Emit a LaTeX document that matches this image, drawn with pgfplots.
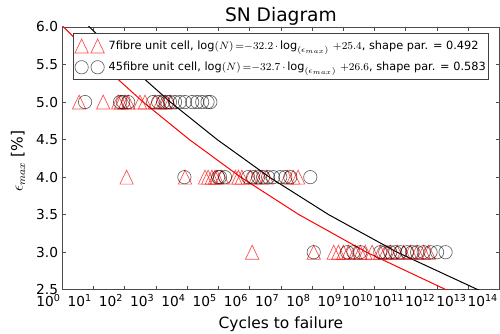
\documentclass[border=0pt]{standalone}
\usepackage{fontspec}
\setmainfont{DejaVu Sans}
\usepackage{pgfplots}
\pgfplotsset{compat=1.18}
\newlength\px
\setlength\px{0.75pt}
\pgfdeclareplotmark{mtri}{%
  \pgfpathmoveto{\pgfqpoint{0pt}{1.05\pgfplotmarksize}}%
  \pgfpathlineto{\pgfqpoint{-\pgfplotmarksize}{-1.05\pgfplotmarksize}}%
  \pgfpathlineto{\pgfqpoint{\pgfplotmarksize}{-1.05\pgfplotmarksize}}%
  \pgfpathclose\pgfusepathqstroke}
\pgfplotsset{twomarks/.style={legend image code/.code={%
  \draw[##1] plot coordinates {(6pt,0pt) (18pt,0pt)};
  \path (0pt,0pt) (24pt,0pt);}}}
\pgfplotstableread{
n eps
0.54 5.0
1.31 5.0
1.79 5.0
1.88 5.0
2.01 5.0
2.11 5.0
2.49 5.0
2.65 5.0
2.97 5.0
3.13 5.0
3.29 5.0
3.45 5.0
2.06 4.0
3.93 4.0
4.57 4.0
4.67 4.0
4.79 4.0
4.89 4.0
4.95 4.0
5.11 4.0
5.54 4.0
5.64 4.0
5.75 4.0
6.02 4.0
6.18 4.0
6.39 4.0
6.55 4.0
7.20 4.0
7.39 4.0
7.55 4.0
6.08 3.0
8.05 3.0
8.69 3.0
8.84 3.0
9.00 3.0
9.16 3.0
9.38 3.0
9.54 3.0
9.70 3.0
9.92 3.0
10.18 3.0
10.34 3.0
10.50 3.0
10.72 3.0
10.93 3.0
11.14 3.0
11.36 3.0
11.57 3.0
11.73 3.0
}\seven
\pgfplotstableread{
n eps
0.73 5.0
1.85 5.0
1.95 5.0
2.11 5.0
2.91 5.0
3.07 5.0
3.23 5.0
3.36 5.0
3.45 5.0
3.61 5.0
3.77 5.0
3.93 5.0
4.16 5.0
4.32 5.0
4.48 5.0
4.65 5.0
4.74 5.0
3.91 4.0
4.99 4.0
5.05 4.0
5.21 4.0
5.95 4.0
6.11 4.0
6.27 4.0
6.43 4.0
6.59 4.0
6.75 4.0
6.98 4.0
7.14 4.0
7.30 4.0
7.94 4.0
8.05 3.0
9.12 3.0
9.32 3.0
9.54 3.0
10.18 3.0
10.34 3.0
10.50 3.0
10.66 3.0
10.82 3.0
11.04 3.0
11.20 3.0
11.36 3.0
11.57 3.0
11.79 3.0
12.00 3.0
12.27 3.0
}\fortyfive
\begin{document}
\begin{tikzpicture}
\begin{axis}[
  name=ax, at={(0,0)}, anchor=south west,
  scale only axis, width=437.7\px, height=263\px,
  xmin=0, xmax=14, ymin=2.5, ymax=6.0,
  xtick={0,...,14},
  xticklabels={10\textsuperscript{0},10\textsuperscript{1},10\textsuperscript{2},10\textsuperscript{3},10\textsuperscript{4},10\textsuperscript{5},10\textsuperscript{6},10\textsuperscript{7},10\textsuperscript{8},10\textsuperscript{9},10\textsuperscript{10},10\textsuperscript{11},10\textsuperscript{12},10\textsuperscript{13},10\textsuperscript{14}},
  ytick={2.5,3.0,3.5,4.0,4.5,5.0,5.5,6.0},
  tick label style={font=\fontsize{10.3}{12}\selectfont},
  xticklabel style={anchor=north east, inner sep=0pt, yshift=-3.5pt, xshift=-1pt},
  yticklabel style={anchor=east, inner sep=0pt, xshift=-3pt,
    /pgf/number format/fixed, /pgf/number format/fixed zerofill,
    /pgf/number format/precision=1, /pgf/number format/assume math mode=true},
  tick align=inside, major tick length=3pt,
  axis line style={black!70, line width=0.6pt},
  every tick/.style={black!70, line width=0.6pt},
  legend style={at={(rel axis cs:0,1)}, anchor=north west, xshift=8pt, yshift=-4.5pt,
    draw=black!75, line width=0.6pt, fill=white, inner xsep=0pt, inner ysep=3.5pt,
    font=\fontsize{8.5}{10}\selectfont, row sep=4pt},
  legend cell align=left,
]
\addplot[only marks, mark=mtri, mark size=5pt, red, draw opacity=0.7, line width=0.5pt, twomarks]
  table[x=n, y=eps] {\seven};
\addlegendentry{7fibre unit cell, $\log(N)\,{=}{-}32.2\,{\cdot}\log_{(\epsilon_{max})}\,{+}25.4$, shape par. = 0.492}
\addplot[only marks, mark=o, mark size=5pt, black, draw opacity=0.6, line width=0.5pt, twomarks]
  table[x=n, y=eps] {\fortyfive};
\addlegendentry{45fibre unit cell, $\log(N)\,{=}{-}32.7\,{\cdot}\log_{(\epsilon_{max})}\,{+}26.6$, shape par. = 0.583\hspace{5pt}}
\addplot[red, line width=0.75pt, forget plot] coordinates {
 (12.86,2.4) (12.29,2.5) (9.74,3.0) (7.58,3.5) (5.71,4.0) (4.07,4.5) (2.59,5.0) (1.26,5.5) (0.04,6.0) (-1.07,6.5)};
\addplot[black, line width=0.75pt, forget plot] coordinates {
 (13.89,2.4) (13.31,2.5) (10.72,3.0) (8.53,3.5) (6.63,4.0) (4.96,4.5) (3.46,5.0) (2.11,5.5) (0.87,6.0) (-0.24,6.5)};
\end{axis}
\node[anchor=base, font=\fontsize{14}{16}\selectfont, yshift=4pt] at (ax.north) {SN Diagram};
\node[anchor=base, font=\fontsize{11.6}{14}\selectfont, yshift=-29.25pt] at (ax.south) {Cycles to failure};
\node[anchor=base, rotate=90, font=\fontsize{11.6}{14}\selectfont] at ([xshift=-29.7pt, yshift=-2pt]ax.west) {$\epsilon_{max}$ [\%]};
\pgfresetboundingbox
\useasboundingbox ([shift={(-62.3\px,-44\px)}]ax.south west) rectangle ([shift={(0.3pt,27\px)}]ax.north east);
\end{tikzpicture}
\end{document}
